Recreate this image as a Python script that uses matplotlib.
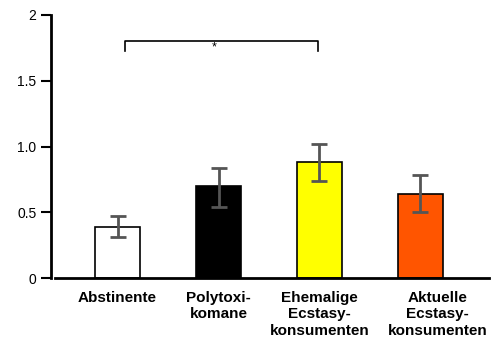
import matplotlib
matplotlib.use('Agg')
import matplotlib.pyplot as plt
import matplotlib.transforms as mtransforms
import numpy as np

plt.rcParams['font.family'] = ['Liberation Sans', 'DejaVu Sans']

groups = ['Abstinente', 'Polytoxi-\nkomane', 'Ehemalige\nEcstasy-\nkonsumenten', 'Aktuelle\nEcstasy-\nkonsumenten']
means = [0.39, 0.70, 0.88, 0.64]
err_lo = [0.31, 0.54, 0.74, 0.50]
err_hi = [0.47, 0.84, 1.02, 0.78]
colors = ['white', 'black', '#ffff00', '#ff5500']
yticks = [0, 0.5, 1.0, 1.5, 2]
yticklabels = ['0', '0.5', '1.0', '1.5', '2']
sig_pair = (0, 2)
sig_y = 1.80

fig = plt.figure(figsize=(4.97, 3.40), dpi=100)
ax = fig.add_axes([51/497, 62/340, 444/497, 263/340])

x = np.arange(len(groups))
yerr = [np.array(means) - np.array(err_lo), np.array(err_hi) - np.array(means)]
ax.bar(x, means, width=0.45, color=colors, edgecolor='black', linewidth=1.2, zorder=2)
ax.errorbar(x, means, yerr=yerr, fmt='none', ecolor='#555555', elinewidth=2,
            capsize=6, capthick=2, zorder=3)

# significance bracket
x1, x2 = sig_pair
ax.plot([x1 + 0.07, x1 + 0.07, x2 - 0.01, x2 - 0.01],
        [sig_y - 0.07, sig_y, sig_y, sig_y - 0.07], color='black', lw=1.2, clip_on=False)
ax.text((x1 + x2) / 2 - 0.04, sig_y - 0.05, '*', ha='center', va='center', fontsize=9)

ax.set_xlim(-0.66, 3.74)
ax.set_ylim(0, 2)
ax.set_yticks(yticks)
ax.set_yticklabels(yticklabels, fontsize=10)
ax.set_xticks(x)
ax.set_xticklabels(groups, fontsize=11, fontweight='bold', linespacing=1.2)
ax.tick_params(axis='x', length=0, pad=9.5)
ax.tick_params(axis='y', length=7, width=1.5, direction='out', pad=3.5)

# last label sits a bit to the right of its bar
lbl = ax.get_xticklabels()[-1]
lbl.set_transform(lbl.get_transform() + mtransforms.ScaledTranslation(0.17, 0, fig.dpi_scale_trans))

for s in ['top', 'right']:
    ax.spines[s].set_visible(False)
ax.spines['left'].set_linewidth(2)
ax.spines['left'].set_bounds(0, 2)
ax.spines['bottom'].set_linewidth(2)
ax.spines['bottom'].set_bounds(-0.62, 3.68)

plt.savefig('out.png', dpi=100)
plt.close()
